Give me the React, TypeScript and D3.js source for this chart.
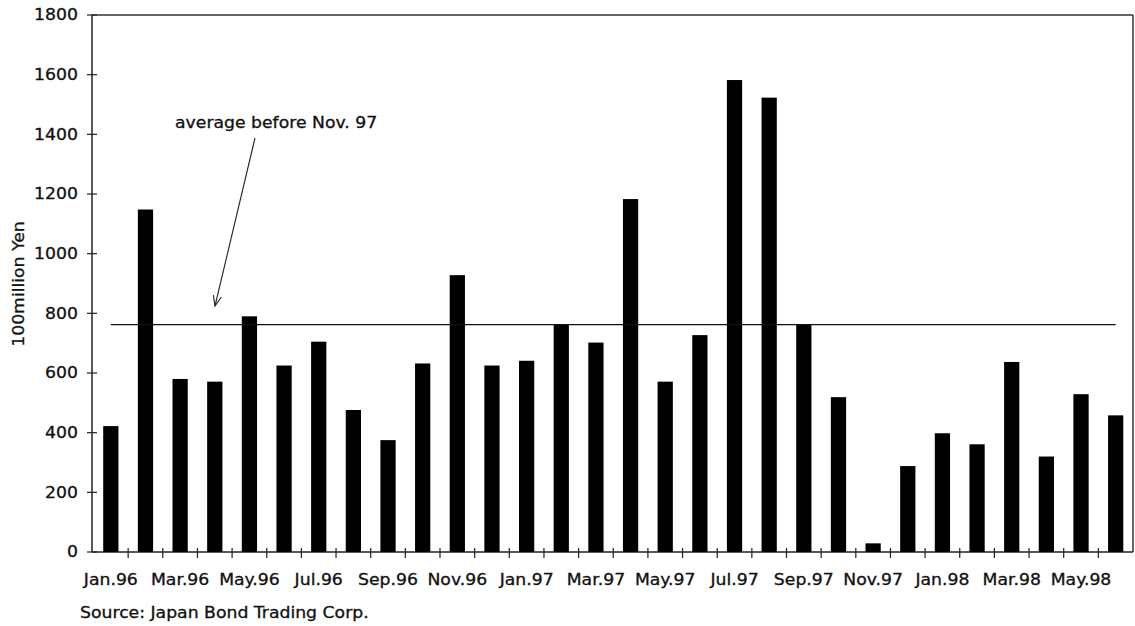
import React from "react";
import * as d3 from "d3";

const months = [
  "Jan.96","Feb.96","Mar.96","Apr.96","May.96","Jun.96","Jul.96","Aug.96","Sep.96","Oct.96","Nov.96","Dec.96",
  "Jan.97","Feb.97","Mar.97","Apr.97","May.97","Jun.97","Jul.97","Aug.97","Sep.97","Oct.97","Nov.97","Dec.97",
  "Jan.98","Feb.98","Mar.98","Apr.98","May.98","Jun.98",
];
const values = [
  422, 1148, 580, 571, 790, 625, 705, 476, 375, 632, 928, 625,
  641, 763, 702, 1183, 571, 727, 1582, 1523, 763, 519, 29, 288,
  398, 361, 637, 320, 529, 458,
];
const yTicks = [0, 200, 400, 600, 800, 1000, 1200, 1400, 1600, 1800];
const xTickLabels = ["Jan.96","Mar.96","May.96","Jul.96","Sep.96","Nov.96","Jan.97","Mar.97","May.97","Jul.97","Sep.97","Nov.97","Jan.98","Mar.98","May.98"];
const averageBeforeNov97 = 762;
const yTitle = "100million Yen";
const annotation = "average before Nov. 97";
const source = "Source: Japan Bond Trading Corp.";

const W = 1135, H = 626;
const left = 92, right = 1133, top = 15, bottom = 552;
const FONT = "DejaVu Sans, sans-serif";
const SX = 1.15;

function T({ x, y, rotate = 0, anchor = "start", size = 15, dy = "0", children }: any) {
  return (
    <text
      transform={`translate(${x},${y}) rotate(${rotate}) scale(${SX},1)`}
      textAnchor={anchor}
      dy={dy}
      fontFamily={FONT}
      fontSize={size}
      fill="#111"
      stroke="#111"
      strokeWidth={0.3}
    >
      {children}
    </text>
  );
}

export default function App() {
  const x = d3.scaleBand<string>().domain(months).range([left + 1.5, right]).padding(0);
  const y = d3.scaleLinear().domain([0, 1800]).range([bottom, top]);
  const bw = x.bandwidth();
  const barW = bw * 0.44;
  const first = months[0], last = months[months.length - 1];
  const ya = y(averageBeforeNov97);
  const tip = { x: 215, y: 306 };
  const start = { x: 255, y: 138 };
  const ang = Math.atan2(tip.y - start.y, tip.x - start.x);
  const ah = 11, spread = 0.38;
  const p1 = { x: tip.x - ah * Math.cos(ang - spread), y: tip.y - ah * Math.sin(ang - spread) };
  const p2 = { x: tip.x - ah * Math.cos(ang + spread), y: tip.y - ah * Math.sin(ang + spread) };

  return (
    <svg width={W} height={H} style={{ position: "absolute", left: 0, top: 0, background: "#fff" }}>
      <rect x={0} y={0} width={W} height={H} fill="#fff" />
      {/* frame */}
      <line x1={left} x2={right} y1={top} y2={top} stroke="#333" strokeWidth={1.5} />
      <line x1={right} x2={right} y1={top} y2={bottom} stroke="#333" strokeWidth={1.5} />
      <line x1={left} x2={left} y1={top} y2={bottom} stroke="#222" strokeWidth={1.5} />
      <line x1={left} x2={right} y1={bottom} y2={bottom} stroke="#222" strokeWidth={1.5} />
      {/* y ticks */}
      {yTicks.map((t) => (
        <g key={t}>
          <line x1={left - 5} x2={left + 5} y1={y(t)} y2={y(t)} stroke="#222" strokeWidth={1.2} />
          <T x={78} y={y(t)} dy="0.36em" anchor="end" size={15}>{t}</T>
        </g>
      ))}
      {/* x ticks at band boundaries */}
      {months.slice(1).map((m) => (
        <line key={m} x1={x(m)!} x2={x(m)!} y1={bottom - 4} y2={bottom + 6} stroke="#222" strokeWidth={1.2} />
      ))}
      {/* bars */}
      {months.map((m, i) => (
        <rect key={m} x={x(m)! + (bw - barW) / 2} y={y(values[i])} width={barW} height={bottom - y(values[i])} fill="#000" />
      ))}
      {/* average line */}
      <line x1={x(first)! + bw / 2} x2={x(last)! + bw / 2} y1={ya} y2={ya} stroke="#111" strokeWidth={1.4} />
      {/* x labels */}
      {xTickLabels.map((l) => (
        <T key={l} x={x(l)! + bw / 2} y={585} anchor="middle" size={15}>{l}</T>
      ))}
      {/* y title */}
      <T x={24} y={284} rotate={-90} anchor="middle" size={15}>{yTitle}</T>
      {/* annotation */}
      <T x={175} y={128} size={15}>{annotation}</T>
      <line x1={start.x} y1={start.y} x2={tip.x} y2={tip.y} stroke="#222" strokeWidth={1.1} />
      <polyline points={`${p1.x},${p1.y} ${tip.x},${tip.y} ${p2.x},${p2.y}`} fill="none" stroke="#222" strokeWidth={1.1} />
      {/* source */}
      <T x={80} y={618} size={15}>{source}</T>
    </svg>
  );
}
